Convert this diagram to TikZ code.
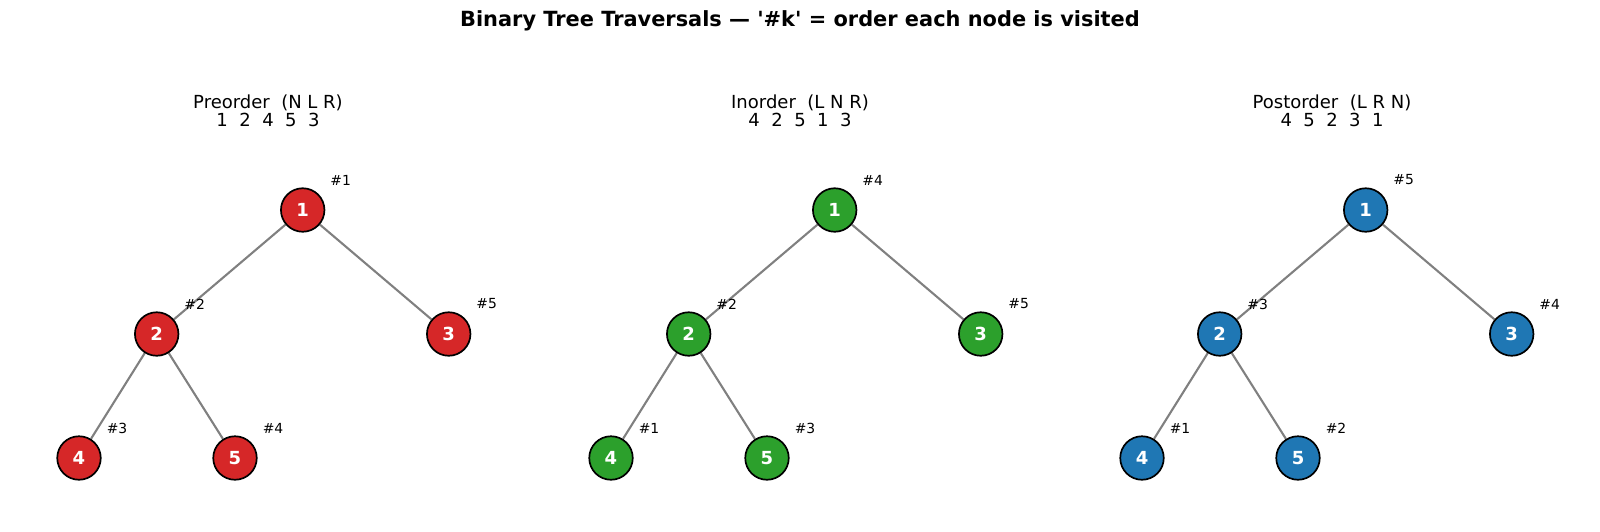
\documentclass[tikz,border=0pt]{standalone}
\usepackage{fontspec}
\setmainfont{DejaVu Sans}[Ligatures=TeXOff]
\usetikzlibrary{backgrounds}
\definecolor{tred}{HTML}{D62728}
\definecolor{tgreen}{HTML}{2CA02C}
\definecolor{tblue}{HTML}{1F77B4}
\definecolor{edgegray}{HTML}{808080}
\tikzset{
  tnode/.style={circle, draw=black, line width=1.7pt, minimum size=43.5pt, inner sep=0pt,
    text=white, font=\fontsize{18}{18}\selectfont\bfseries},
  tedge/.style={draw=edgegray, line width=2.1pt},
  vlabel/.style={font=\fontsize{13.9}{13.9}\selectfont, text=black},
  ptitle/.style={font=\fontsize{18}{18}\selectfont, anchor=base},
  mtitle/.style={font=\fontsize{20.9}{20.9}\selectfont\bfseries, anchor=base},
}
\newcommand\tpanel[8]{%
  \begin{scope}[xshift=#2pt]
    \node[tnode, fill=#3] (#1a) at (302.7,210) {1};
    \node[tnode, fill=#3] (#1b) at (156.7,334) {2};
    \node[tnode, fill=#3] (#1c) at (448.7,334) {3};
    \node[tnode, fill=#3] (#1d) at (79,458) {4};
    \node[tnode, fill=#3] (#1e) at (235,458) {5};
    \begin{scope}[on background layer]
      \draw[tedge] (#1a) -- (#1b);
      \draw[tedge] (#1a) -- (#1c);
      \draw[tedge] (#1b) -- (#1d);
      \draw[tedge] (#1b) -- (#1e);
    \end{scope}
    \node[vlabel] (#1la) at ([shift={(38,-30)}]#1a) {\#{#4}};
    \node[vlabel] (#1lb) at ([shift={(38,-30)}]#1b) {\#{#5}};
    \node[vlabel] (#1lc) at ([shift={(38,-30)}]#1c) {\#{#6}};
    \node[vlabel] (#1ld) at ([shift={(38,-30)}]#1d) {\#{#7}};
    \node[vlabel] (#1le) at ([shift={(38,-30)}]#1e) {\#{#8}};
  \end{scope}}
\begin{document}
\begin{tikzpicture}[x=1pt, y=-1pt]
  \useasboundingbox (0,0) rectangle (1600,531);
  \node[mtitle] (title) at (800,26.7) {Binary Tree Traversals — '\#k' = order each node is visited};

  \node[ptitle] (preA) at (268,108.3) {Preorder\ \ (N L R)};
  \node[ptitle] (preB) at (268,126.7) {1\ \ 2\ \ 4\ \ 5\ \ 3};
  \node[ptitle] (inA) at (800,108.3) {Inorder\ \ (L N R)};
  \node[ptitle] (inB) at (800,126.7) {4\ \ 2\ \ 5\ \ 1\ \ 3};
  \node[ptitle] (postA) at (1332,108.3) {Postorder\ \ (L R N)};
  \node[ptitle] (postB) at (1332,126.7) {4\ \ 5\ \ 2\ \ 3\ \ 1};

  \tpanel{p}{0}{tred}{1}{2}{5}{3}{4}
  \tpanel{i}{532}{tgreen}{4}{2}{5}{1}{3}
  \tpanel{q}{1063}{tblue}{5}{3}{4}{1}{2}
\end{tikzpicture}
\end{document}
